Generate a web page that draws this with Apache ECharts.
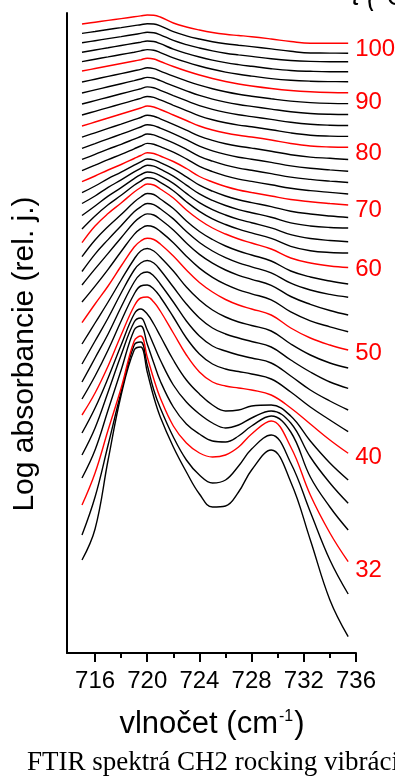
<!DOCTYPE html>
<html>
<head>
<meta charset="utf-8">
<script src="https://cdn.jsdelivr.net/npm/echarts@6/dist/echarts.min.js"></script>
<style>
  html, body { margin: 0; padding: 0; background: #fff; }
  #chart { width: 395px; height: 780px; }
</style>
</head>
<body>
<div id="chart"></div>
<script>
// Wavenumber sampling of the CH2 rocking band (cm-1)
const wavenumbers = [715, 716, 717, 718, 719, 719.5, 720, 720.5, 721, 722, 723, 724, 725, 726, 727, 728, 729.5, 731, 732.5, 734, 735.4];

// Measurement temperatures, top trace first (°C)
const temperatures = [100, 98, 96, 94, 92, 90, 88, 86, 84, 82, 80, 78, 76, 74, 72, 70, 68, 66, 64, 62, 60,
                      58, 56, 54, 52, 50, 48, 46, 44, 42, 40, 38, 36, 34, 32, 30, 28];

// Traces drawn in red and labelled on the right
const marked = [100, 90, 80, 70, 60, 50, 40, 32];

// Vertically shifted log absorbance, one array per temperature (rel. units)
const s100 = [629, 630.8, 632.6, 634.4, 636.2, 637.1, 638, 637.8, 636, 630, 626, 623, 620.5, 618.7, 617.5, 616.3, 614, 611.5, 609.7, 609.7, 609.7];
const s98 = [619.6, 621.5, 623.5, 625.4, 627.4, 628.3, 629.3, 629, 627.1, 621.3, 617.2, 614, 611.3, 609.3, 607.8, 606.4, 604.1, 601.7, 600, 599.9, 599.8];
const s96 = [610.2, 612.3, 614.4, 616.4, 618.5, 619.6, 620.7, 620.3, 618.2, 612.6, 608.4, 605, 602.1, 599.8, 598.1, 596.6, 594.2, 592.5, 591.6, 591.3, 591.3];
const s94 = [600.8, 603, 605.2, 607.5, 609.7, 610.8, 612, 611.5, 609.3, 603.9, 599.6, 596, 592.9, 590.4, 588.4, 586.7, 584.3, 582.5, 581.7, 581.3, 581.3];
const s92 = [591.4, 593.8, 596.1, 598.5, 600.8, 602.1, 603.4, 602.8, 600.4, 595.2, 590.8, 587, 583.7, 580.9, 578.7, 576.9, 574.4, 572.7, 571.8, 571.4, 571.3];
const s90 = [582, 584.5, 587, 589.5, 592, 593.3, 594.7, 594, 591.5, 586.5, 582, 578, 574.5, 571.5, 569, 567, 564.5, 562.5, 561.2, 560.5, 560.3];
const s88 = [571, 573.8, 576.6, 579.4, 582.2, 583.6, 585.2, 584.4, 581.9, 576.8, 572.1, 567.8, 564.2, 561.2, 558.7, 556.8, 554.2, 551.9, 550.4, 549.6, 549.4];
const s86 = [560, 563.1, 566.2, 569.3, 572.4, 574, 575.6, 574.8, 572.3, 567.1, 562.2, 557.6, 553.9, 550.9, 548.5, 546.6, 543.9, 541.3, 539.5, 538.7, 538.5];
const s84 = [549, 552.4, 555.8, 559.2, 562.6, 564.3, 566.1, 565.2, 562.7, 557.4, 552.3, 547.4, 543.6, 540.6, 538.2, 536.4, 533.6, 530.7, 528.7, 527.8, 527.5];
const s82 = [538, 541.7, 545.4, 549.1, 552.8, 554.7, 556.5, 555.6, 553.1, 547.7, 542.4, 537.2, 533.3, 530.3, 527.9, 526.2, 523.3, 520.1, 517.8, 516.9, 516.6];
const s80 = [527, 531, 535, 539, 543, 545, 547, 546, 543.5, 538, 532.5, 527, 523, 520, 517.7, 516, 513, 509.5, 507, 506, 505.7];
const s78 = [515.9, 520.2, 524.6, 528.9, 533.3, 535.5, 537.7, 536.7, 534.2, 528.7, 522.9, 516.9, 512.6, 509.3, 506.8, 504.9, 501.8, 498.3, 495.9, 494.7, 493.5];
const s76 = [504.7, 509.4, 514.2, 518.8, 523.6, 526, 528.3, 527.4, 524.9, 519.4, 513.3, 506.8, 502.2, 498.6, 495.8, 493.8, 490.6, 487.1, 484.7, 483.1, 481.8];
const s74 = [493.6, 498.6, 503.8, 508.7, 513.9, 516.5, 519, 518.1, 515.6, 510.1, 503.7, 496.7, 491.8, 487.9, 484.9, 482.7, 479.4, 475.9, 473.6, 471.9, 470.5];
const s72 = [482.4, 487.8, 493.4, 498.6, 504.2, 507, 509.6, 508.8, 506.3, 500.8, 494.1, 486.6, 481.4, 477.2, 473.9, 471.6, 468.2, 464.7, 462.4, 460.6, 459];
const s70 = [471.3, 477, 483, 488.5, 494.5, 497.5, 500.3, 499.5, 497, 491.5, 484.5, 476.5, 471, 466.5, 463, 460.5, 457, 453.5, 451.3, 449.5, 448];
const s68 = [460.3, 467, 474.3, 480.8, 487.8, 491.1, 494, 493.2, 490.4, 484.2, 476.2, 467.8, 461.8, 457, 453.2, 450.4, 446.4, 441.8, 439, 437, 435.5];
const s66 = [449.5, 457, 465.6, 473.1, 481.1, 484.7, 487.8, 486.9, 483.8, 476.9, 467.9, 459.1, 452.6, 447.5, 443.4, 440.3, 435.8, 430.1, 427, 425.5, 425];
const s64 = [437.5, 447, 456.9, 465.4, 474.4, 478.3, 481, 480.1, 477.2, 469.6, 459.6, 450.4, 443.4, 438, 433.6, 430.2, 425.2, 418.4, 414.5, 412.5, 411.3];
const s62 = [424, 437, 448.2, 457.7, 467.7, 471.9, 475.3, 474.3, 470.6, 462.3, 451.3, 441.7, 434.2, 428.5, 423.8, 420.1, 414.6, 406.7, 402.3, 400.5, 400];
const s60 = [410.3, 427, 439.5, 450, 461, 465.5, 469, 468, 464, 455, 443, 433, 425, 419, 414, 410, 404, 395, 390, 387, 385.5];
const s58 = [396.3, 413, 426.5, 438.5, 451, 456, 459.5, 458.5, 454, 444.5, 432, 421.5, 413.5, 407, 402, 398, 392, 382, 376, 372, 369];
const s56 = [381.5, 398.9, 413.4, 427.3, 441.2, 446.2, 449.5, 448.4, 444.2, 434.1, 421.4, 410.5, 402, 395.4, 390.2, 386.2, 380.2, 369.8, 363, 358.6, 355.8];
const s54 = [368, 384.1, 399.6, 415.3, 430.7, 436.1, 439.1, 438, 433.7, 423.1, 410, 398.6, 389.8, 383, 377.7, 373.7, 367.7, 356.5, 348.7, 342.5, 338];
const s52 = [351, 366.9, 383.7, 401.5, 418.6, 424.3, 427.2, 426, 421.6, 410.3, 396.8, 384.9, 375.7, 368.6, 363.2, 359.2, 353.2, 341.1, 332.2, 326.2, 321.3];
const s50 = [330.3, 349, 367, 387, 406, 412, 414.7, 413.5, 409, 397, 383, 370.5, 361, 353.5, 348, 344, 338, 325, 315, 308, 303];
const s48 = [309, 330, 351, 373, 394, 402, 404.5, 402, 396, 382, 366, 353, 343, 336, 331, 327.5, 322, 309, 298, 290, 285];
const s46 = [289, 312, 335, 360, 383, 390, 392.5, 390, 383, 366, 349, 335, 325, 319, 315, 311.5, 306, 293, 281, 271, 264.7];
const s44 = [271, 295, 319, 346, 371, 379, 381, 377, 369, 351, 332, 317, 307, 302, 298, 295, 290, 277, 263, 252, 243];
const s42 = [254, 277, 303, 332, 359, 367, 368, 364, 356, 336, 315, 299, 289, 284, 281.5, 279, 274, 261, 246, 233, 221.3];
const s40 = [238, 260, 287, 318, 347, 355, 356, 351, 342, 320, 298, 281, 271, 267, 265, 263, 258, 245, 229, 213, 199.7];
const s38 = [220, 245, 275, 308, 339, 344, 339, 329, 317, 293, 273, 259, 248, 242, 243, 247, 248, 237, 212, 190, 173];
const s36 = [198, 225, 261, 298, 331, 335, 323, 308, 293, 268, 251, 239, 230, 225, 228, 235, 242, 230, 196, 170, 149.7];
const s34 = [175, 203, 243, 283, 323, 327, 309, 290, 272, 246, 229, 219, 212, 211, 217, 227, 237, 221, 176, 146, 123];
const s32 = [148, 180, 223, 265, 312, 317, 296, 274, 255, 227, 210, 200, 196, 198, 206, 219, 232, 206, 158, 120, 91.3];
const s30 = [118, 156, 208, 261, 308, 311, 288, 263, 245, 216, 193, 178, 170, 173, 187, 204, 218, 190, 141, 93, 59];
const s28 = [93, 124, 193, 258, 303, 306, 281, 256, 236, 206, 181, 159, 146, 147, 161, 183, 203, 171, 113, 53, 16.3];

// Tick positions on the wavenumber axis
const labelTicks = [716, 720, 724, 728, 732, 736];
const minorTicks = [718, 722, 726, 730, 734];

const spectra = [s100, s98, s96, s94, s92, s90, s88, s86, s84, s82, s80, s78, s76, s74, s72, s70, s68, s66, s64, s62, s60,
                 s58, s56, s54, s52, s50, s48, s46, s44, s42, s40, s38, s36, s34, s32, s30, s28];

const SANS = '"Liberation Sans", Arial, Helvetica, sans-serif';
const SERIF = '"Liberation Serif", "Times New Roman", serif';
const RED = '#ff0000';

// small vertical nudges for the temperature labels at the right end
const labelShift = { 100: 6, 90: 10, 80: 6, 70: 5, 60: 2, 50: 3, 40: 4, 32: 9 };

const series = temperatures.map((t, i) => {
  const hot = marked.includes(t);
  return {
    type: 'line',
    name: String(t),
    data: wavenumbers.map((w, j) => [w, spectra[i][j]]),
    smooth: 0.4,
    symbol: 'none',
    silent: true,
    z: hot ? 3 : 2,
    lineStyle: { color: hot ? RED : '#000', width: 1.4 },
    endLabel: hot ? {
      show: true,
      formatter: String(t),
      color: RED,
      fontSize: 24,
      fontFamily: SANS,
      distance: 7,
      offset: [0, labelShift[t] || 0]
    } : { show: false }
  };
});

const chart = echarts.init(document.getElementById('chart'), null, { renderer: 'canvas' });

chart.setOption({
  animation: false,
  backgroundColor: '#fff',
  grid: { left: 67, right: 39, top: 13, bottom: 127, containLabel: false },
  xAxis: [
    {
      type: 'value',
      min: 713.85,
      max: 736,
      position: 'bottom',
      axisLine: { show: true, lineStyle: { color: '#000', width: 2 } },
      axisTick: { show: true, customValues: labelTicks, length: 9, inside: false, lineStyle: { color: '#000', width: 2 } },
      axisLabel: { show: true, customValues: labelTicks, color: '#000', fontSize: 24, fontFamily: SANS, margin: 16 },
      splitLine: { show: false }
    },
    {
      type: 'value',
      min: 713.85,
      max: 736,
      position: 'bottom',
      axisLine: { show: false },
      axisTick: { show: true, customValues: minorTicks, length: 5, lineStyle: { color: '#000', width: 2 } },
      axisLabel: { show: false },
      splitLine: { show: false }
    }
  ],
  yAxis: {
    type: 'value',
    min: 0,
    max: 640,
    axisLine: { show: true, lineStyle: { color: '#000', width: 2 } },
    axisTick: { show: false },
    axisLabel: { show: false },
    splitLine: { show: false }
  },
  graphic: [
    {
      type: 'text',
      x: 24.5,
      y: 354,
      rotation: Math.PI / 2,
      style: {
        text: 'Log absorbancie (rel. j.)',
        fill: '#000',
        font: '30px ' + SANS,
        align: 'center',
        verticalAlign: 'middle'
      }
    },
    {
      type: 'text',
      x: 212,
      y: 724,
      style: {
        text: '{b|vlnočet (cm}{s|-1}{b|)}',
        align: 'center',
        verticalAlign: 'middle',
        rich: {
          b: { fontSize: 31, fontFamily: SANS, fill: '#000', lineHeight: 31 },
          s: { fontSize: 16, fontFamily: SANS, fill: '#000', verticalAlign: 'top', lineHeight: 31, padding: [0, 1, 16, 1] }
        }
      }
    },
    {
      type: 'text',
      x: 27,
      y: 763,
      style: {
        text: 'FTIR spektrá CH2 rocking vibrácie',
        fill: '#000',
        font: '27px ' + SERIF,
        align: 'left',
        verticalAlign: 'middle'
      }
    },
    {
      type: 'text',
      x: 352,
      y: -3,
      style: {
        text: 't (°C)',
        fill: '#000',
        font: 'italic 27px ' + SANS,
        align: 'left',
        verticalAlign: 'middle'
      }
    }
  ],
  series: series
});
</script>
</body>
</html>
